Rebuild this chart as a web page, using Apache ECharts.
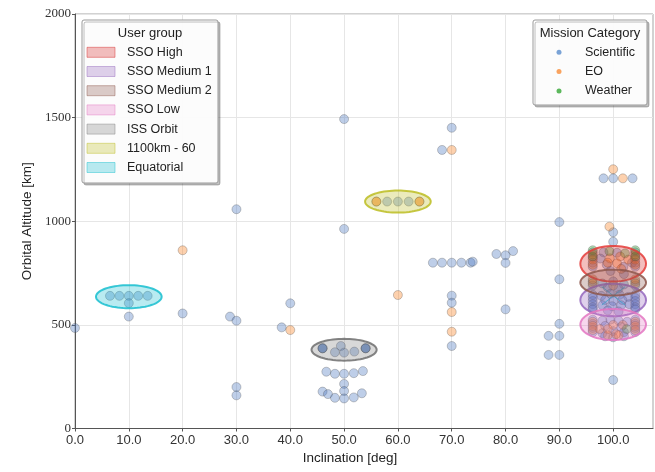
<!DOCTYPE html>
<html>
<head>
<meta charset="utf-8">
<script src="https://cdn.jsdelivr.net/npm/echarts@6/dist/echarts.min.js"></script>
<style>
html,body{margin:0;padding:0;background:#fff;}
#chart{width:655px;height:472px;}
</style>
</head>
<body>
<div id="chart"></div>
<script>
// ---------------- DATA ----------------
// Scientific missions: [inclination deg, altitude km]
const scientific = [
  [0,485],
  [6.5,640],[8.25,640],[10,640],[11.75,640],[13.5,640],[10,605],[10,540],
  [20,555],
  [28.8,540],[30,520],[30,1058],[30,200],[30,160],
  [38.4,488],[40,604],
  [46,387],[46,387],[46,387],[54,387],[54,387],[54,387],[48.3,368],[49.4,398],[50,366],[51.9,371],
  [46.7,274],[48.3,264],[50,264],[51.8,267],[53.5,277],[50,215],[50,181],[46,178],[47,166],[48.3,148],[50,145],[51.8,150],[53.3,170],
  [50,1493],[50,963],
  [58,1095],[60,1095],[62,1095],
  [70,1451],[68.2,1344],
  [66.5,800],[68.2,800],[70,800],[71.8,800],[73.5,800],[73.9,805],
  [78.3,842],[80,836],[81.4,856],[80,799],
  [70,641],[70,607],[70,398],
  [80,575],
  [90,996],[90,720],[90,505],[88,447],[90,447],[88,355],[90,355],
  [98.2,1207],[100,1207],[103.6,1207],[100,947],[100,901],[100,234],
  // SSO cluster interior
  [98.2,850],[100.7,848],[97.6,820],[98.8,790],[101.9,780],[103.5,800],[99.5,760],[102,745],
  [98,700],[100,710],[102,695],[99,680],[101,675],
  [97.8,640],[99.5,650],[101.2,645],[102.8,635],[98.5,620],[100,615],[101.7,620],[98,595],[99.8,590],[101.5,595],[103,600],[99,570],[101,565],
  [98,520],[99.5,525],[101,520],[102.6,515],[98.5,495],[101.5,490],[100,470],[102,465],[98,460],
  [98.5,445],[100,440],[102,445],
  // SSO cluster columns
  [96.2,850],[96.2,825],[96.2,800],[96.2,780],[104.1,850],[104.1,825],[104.1,800],[104.1,780],
  [96.2,710],[96.2,690],[104.1,710],[104.1,690],
  [96.2,645],[96.2,630],[96.2,615],[96.2,600],[96.2,585],[96.2,575],
  [104.1,645],[104.1,630],[104.1,615],[104.1,600],[104.1,585],[104.1,575],
  [96.2,525],[96.2,505],[96.2,485],[96.2,465],[104.1,525],[104.1,505],[104.1,485],[104.1,465]
];
// Earth observation missions
const eo = [
  [20,860],[40,475],[60,644],[70,1344],[70,562],[70,467],
  [100,1251],[101.8,1207],[99.3,974],
  [56,1095],[56,1095],[64,1095],[64,1095],
  [99.4,821],[101.3,830],[102.8,815],[100.7,797],[99,800],[101.5,770],
  [100,690],
  [100,500],[99,480],[101.8,500],[100.5,455],[99,450],[97.5,480],[101,450],
  [96.2,840],[96.2,815],[96.2,790],[104.1,840],[104.1,815],[104.1,790],
  [96.2,720],[96.2,700],[104.1,720],[104.1,700],
  [96.2,515],[96.2,495],[96.2,475],[104.1,515],[104.1,495],[104.1,475]
];
// Weather missions
const weather = [
  [99.3,855],[102.2,845],
  [96.2,860],[96.2,830],[104.1,860],[104.1,830],
  [102.5,480]
];
// User group ellipses: names, centers (deg, km), widths (deg), heights (km)
const groupNames = ['SSO High','SSO Medium 1','SSO Medium 2','SSO Low','ISS Orbit','1100km - 60','Equatorial'];
const groupCx = [100, 100, 100, 100, 50, 60, 10];
const groupCy = [795, 620, 704, 502, 380, 1095, 636];
const groupW  = [12.2, 12.2, 12.2, 12.2, 12.1, 12.2, 12.2];
const groupH  = [172, 157, 125, 150, 105, 106, 111];
// Cross lines inside the SSO cluster
const crossA = [[97.9,684],[102.2,596]];
const crossB = [[97.9,596],[102.2,684]];
// Mission categories
const categoryNames = ['Scientific','EO','Weather'];
// Axis ticks
const xTicks = [0,10,20,30,40,50,60,70,80,90,100];
const yTicks = [0,500,1000,1500,2000];

// ---------------- STYLES ----------------
const groupFill = ['rgba(214,39,40,0.3)','rgba(148,103,189,0.3)','rgba(140,86,75,0.3)','rgba(227,119,194,0.3)','rgba(127,127,127,0.3)','rgba(188,189,34,0.3)','rgba(23,190,207,0.3)'];
const groupEdge = ['rgba(228,60,58,0.85)','rgba(148,103,189,0.85)','rgba(140,86,75,0.85)','rgba(227,119,194,0.85)','rgba(110,110,110,0.85)','rgba(188,189,34,0.85)','rgba(23,190,207,0.85)'];
const catFill = ['rgba(76,120,190,0.45)','rgba(250,128,30,0.45)','rgba(44,160,44,0.45)'];
const catLegend = ['#7aa3d6','#f9a35f','#5cb85c'];
const edge = 'rgba(70,70,70,0.45)';

const chart = echarts.init(document.getElementById('chart'), null, {renderer:'canvas'});

const ellipseData = groupNames.map((n,i)=>[groupCx[i],groupCy[i],groupW[i],groupH[i],i]);

function renderEllipse(params, api){
  const cx=api.value(0), cy=api.value(1), w=api.value(2), h=api.value(3), i=api.value(4);
  const pts=[];
  for(let k=0;k<72;k++){
    const t=2*Math.PI*k/72;
    pts.push(api.coord([cx+w/2*Math.cos(t), cy+h/2*Math.sin(t)]));
  }
  return {type:'polygon', shape:{points:pts}, style:{fill:groupFill[i], stroke:groupEdge[i], lineWidth:2}};
}

// Legend graphics
const sans = 'Liberation Sans';
const g = [];
// User group legend
g.push({type:'rect', shape:{x:82,y:20,width:136,height:163,r:2}, style:{fill:'rgba(255,255,255,0.95)', stroke:'#9a9a9a', lineWidth:1, shadowColor:'rgba(0,0,0,0.25)', shadowOffsetX:2, shadowOffsetY:2, shadowBlur:0}, z:100});
g.push({type:'text', x:150, y:33, style:{text:'User group', font:'13px '+sans, fill:'#222', textAlign:'center', textVerticalAlign:'middle'}, z:101});
groupNames.forEach((n,i)=>{
  const yy = 52.3 + i*19.2;
  g.push({type:'rect', shape:{x:87,y:yy-5,width:28,height:10}, style:{fill:groupFill[i], stroke:groupFill[i].replace('0.3)','0.45)'), lineWidth:1}, z:101});
  g.push({type:'text', x:127, y:yy, style:{text:n, font:'12.5px '+sans, fill:'#222', textAlign:'left', textVerticalAlign:'middle'}, z:101});
});
// Mission category legend
g.push({type:'rect', shape:{x:533,y:20,width:114,height:85,r:2}, style:{fill:'rgba(255,255,255,0.95)', stroke:'#9a9a9a', lineWidth:1, shadowColor:'rgba(0,0,0,0.25)', shadowOffsetX:2, shadowOffsetY:2, shadowBlur:0}, z:100});
g.push({type:'text', x:590, y:33, style:{text:'Mission Category', font:'13px '+sans, fill:'#222', textAlign:'center', textVerticalAlign:'middle'}, z:101});
categoryNames.forEach((n,i)=>{
  const yy = 52.3 + i*19.3;
  g.push({type:'circle', shape:{cx:559, cy:yy, r:2.5}, style:{fill:catLegend[i]}, z:101});
  g.push({type:'text', x:585, y:yy, style:{text:n, font:'12.5px '+sans, fill:'#222', textAlign:'left', textVerticalAlign:'middle'}, z:101});
});

const scatterBase = (name, data, i) => ({
  name, type:'scatter', data, symbolSize:9, clip:true, z:2,
  itemStyle:{color:catFill[i], borderColor:edge, borderWidth:0.8},
  emphasis:{disabled:true}
});

chart.setOption({
  animation:false,
  backgroundColor:'#fff',
  grid:{left:75, top:14, width:578, height:414.5, show:true, borderColor:'#a5a5a5', borderWidth:1, containLabel:false},
  xAxis:{
    type:'value', min:0, max:107.4, interval:10,
    name:'Inclination [deg]', nameLocation:'middle', nameGap:22,
    nameTextStyle:{fontFamily:sans, fontSize:13.5, color:'#222', padding:[0,28,0,0]},
    axisLine:{show:true, onZero:false, lineStyle:{color:'#555', width:1}},
    axisTick:{show:true, length:3, lineStyle:{color:'#555'}, customValues: xTicks},
    axisLabel:{show:true, margin:5, fontFamily:sans, fontSize:13, color:'#333',
      customValues: xTicks, formatter:(v)=>Number(v).toFixed(1)},
    splitLine:{show:true, lineStyle:{color:'#e6e6e6', width:1}}
  },
  yAxis:{
    type:'value', min:0, max:2000, interval:500,
    name:'Orbital Altitude [km]', nameLocation:'middle', nameGap:39, nameRotate:90,
    nameTextStyle:{fontFamily:sans, fontSize:13.5, color:'#222'},
    axisLine:{show:true, onZero:false, lineStyle:{color:'#555', width:1}},
    axisTick:{show:true, length:3, lineStyle:{color:'#555'}, customValues: yTicks},
    axisLabel:{show:true, margin:4, fontFamily:'Liberation Serif', fontSize:13, color:'#333', customValues: yTicks,
      formatter:(v)=>String(v)},
    splitLine:{show:true, lineStyle:{color:'#e6e6e6', width:1}}
  },
  series:[
    scatterBase('Scientific', scientific, 0),
    scatterBase('EO', eo, 1),
    scatterBase('Weather', weather, 2),
    {type:'line', data:crossA, symbol:'none', z:3, lineStyle:{color:'rgba(23,190,207,0.8)', width:1}, silent:true},
    {type:'line', data:crossB, symbol:'none', z:3, lineStyle:{color:'rgba(23,190,207,0.8)', width:1}, silent:true},
    {type:'custom', renderItem:renderEllipse, data:ellipseData, encode:{x:0,y:1}, z:4, silent:true, clip:true}
  ],
  graphic:{elements:g}
});
</script>
</body>
</html>
